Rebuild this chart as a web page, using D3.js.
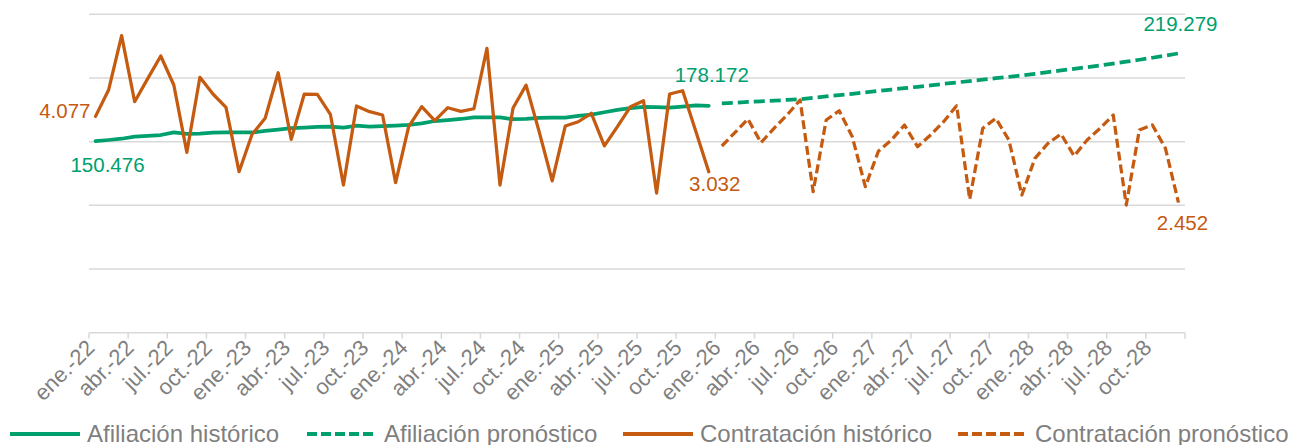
<!DOCTYPE html>
<html><head><meta charset="utf-8">
<script src="https://cdn.jsdelivr.net/npm/d3@7"></script>
<style>
html,body{margin:0;padding:0;background:#fff;}
svg{display:block;font-family:"Liberation Sans",Arial,sans-serif;}
</style></head>
<body>
<svg id="chart" width="1290" height="445"></svg>
<script>
const monthNames = ["ene.","feb.","mar.","abr.","may.","jun.","jul.","ago.","sep.","oct.","nov.","dic."];
const years = ["22","23","24","25","26","27","28"];
const categories = years.flatMap(y => monthNames.map(m => m + "-" + y));

const afiliacionHistorico = [150476,151300,152300,153900,154500,155200,157300,156200,156400,157000,
  157200,157200,157200,158400,159500,160700,161100,161700,161800,161000,
  162500,161900,162100,162500,163100,164300,166200,167000,167800,169100,
  169100,169100,167600,167800,168700,168800,168800,170200,171300,173100,
  174900,176400,177400,177200,176800,177600,178400,178172];
const afiliacionPronostico = [180100,180600,181200,181700,182200,182800,183300,184400,185500,186600,187600,188700,
  189800,190900,192000,193100,194200,195400,196500,197600,198700,199800,200900,202000,
  203300,204600,205900,207200,208500,209900,211300,212800,214300,215900,217600,219279];
const contratacionHistorico = [4077,4573,5597,4353,4788,5214,4668,3399,4813,4498,4247,3034,
  3739,4040,4899,3644,4498,4492,4116,2783,4272,4165,4102,2827,
  3882,4259,3995,4240,4170,4220,5359,2783,4235,4665,3788,2862,
  3895,3975,4134,3520,3885,4259,4372,2630,4498,4560,3801,3032];
const contratacionPronostico = [3518,3769,4027,3580,3852,4102,4385,2657,4008,4183,3693,2751,
  3420,3631,3914,3505,3725,3976,4278,2514,3852,4040,3631,2595,
  3286,3569,3744,3330,3631,3852,4102,2406,3820,3914,3475,2452];
const primaryTicks = [0,50000,100000,150000,200000,250000];
const secondaryDomain = [0,6000];
const legendLabels = ["Afiliación histórico","Afiliación pronóstico","Contratación histórico","Contratación pronóstico"];

const GREEN = "#00a06e", ORANGE = "#c55a11", GRID = "#d9d9d9", TEXT = "#7f7f7f";
const svg = d3.select("#chart");
const plotLeft = 89, plotRight = 1185, plotTop = 14.3, plotBottom = 332.7;

const x = d3.scaleBand().domain(categories).range([plotLeft, plotRight]).padding(0);
const cx = c => x(c) + x.bandwidth() / 2;
const y1 = d3.scaleLinear().domain([0, 250000]).range([plotBottom, plotTop]);
const y2 = d3.scaleLinear().domain(secondaryDomain).range([plotBottom, plotTop]);

// gridlines
svg.append("g").selectAll("line").data(primaryTicks.slice(1)).join("line")
  .attr("x1", plotLeft).attr("x2", plotRight)
  .attr("y1", d => y1(d)).attr("y2", d => y1(d))
  .attr("stroke", GRID).attr("stroke-width", 1.5);

// x axis
const tickCats = categories.filter((c, i) => i % 3 === 0);
const axisG = svg.append("g").attr("transform", `translate(0,${plotBottom})`);
axisG.append("line").attr("x1", plotLeft).attr("x2", plotRight).attr("stroke", GRID).attr("stroke-width", 1.5);
const tickPos = tickCats.map(c => x(c)).concat([plotRight]);
axisG.selectAll("line.tick").data(tickPos).join("line").attr("class","tick")
  .attr("x1", d => d).attr("x2", d => d).attr("y1", 0).attr("y2", 6)
  .attr("stroke", GRID).attr("stroke-width", 1.5);
axisG.selectAll("text").data(tickCats).join("text")
  .attr("transform", c => `translate(${cx(c) - 5},${11}) rotate(-45)`)
  .attr("text-anchor", "end").attr("dy", "0.35em")
  .attr("font-size", 22).attr("fill", TEXT).text(c => c);

// lines
const histCats = categories.slice(0, afiliacionHistorico.length);
const pronCats = categories.slice(afiliacionHistorico.length);
function drawLine(cats, vals, yScale, color, width, dash) {
  const line = d3.line().x((d, i) => cx(cats[i])).y(d => yScale(d));
  svg.append("path").datum(vals).attr("d", line)
    .attr("fill", "none").attr("stroke", color).attr("stroke-width", width)
    .attr("stroke-linejoin", "round").attr("stroke-linecap", dash ? "butt" : "round")
    .attr("stroke-dasharray", dash || null);
}
drawLine(histCats, afiliacionHistorico, y1, GREEN, 3.75, null);
drawLine(pronCats, afiliacionPronostico, y1, GREEN, 3.75, "11,5");
drawLine(histCats, contratacionHistorico, y2, ORANGE, 3.25, null);
drawLine(pronCats, contratacionPronostico, y2, ORANGE, 3.25, "9,4");

// data labels
const labels = [
  {c: histCats[0], v: afiliacionHistorico[0], y: y1, color: GREEN, dx: 12, dy: 31, anchor: "middle"},
  {c: histCats[histCats.length-1], v: afiliacionHistorico[afiliacionHistorico.length-1], y: y1, color: GREEN, dx: 3, dy: -23.5, anchor: "middle"},
  {c: pronCats[pronCats.length-1], v: afiliacionPronostico[afiliacionPronostico.length-1], y: y1, color: GREEN, dx: 2, dy: -22, anchor: "middle"},
  {c: histCats[0], v: contratacionHistorico[0], y: y2, color: ORANGE, dx: -5, dy: 1.5, anchor: "end"},
  {c: histCats[histCats.length-1], v: contratacionHistorico[contratacionHistorico.length-1], y: y2, color: ORANGE, dx: 6, dy: 19, anchor: "middle"},
  {c: pronCats[pronCats.length-1], v: contratacionPronostico[contratacionPronostico.length-1], y: y2, color: ORANGE, dx: 4, dy: 27, anchor: "middle"}
];
const fmt = v => d3.format(",")(v).replace(/,/g, ".");
svg.append("g").selectAll("text").data(labels).join("text")
  .attr("x", d => cx(d.c) + d.dx).attr("y", d => d.y(d.v) + d.dy)
  .attr("text-anchor", d => d.anchor).attr("font-size", 20.5).attr("fill", d => d.color)
  .text(d => fmt(d.v));

// legend
const legendItems = [
  {label: legendLabels[0], color: GREEN, dash: null, x: 10},
  {label: legendLabels[1], color: GREEN, dash: "10,4", x: 307},
  {label: legendLabels[2], color: ORANGE, dash: null, x: 623},
  {label: legendLabels[3], color: ORANGE, dash: "10,4", x: 958}
];
const lg = svg.append("g").selectAll("g").data(legendItems).join("g")
  .attr("transform", d => `translate(${d.x},434)`);
lg.append("line").attr("x1", 0).attr("x2", 70).attr("stroke", d => d.color)
  .attr("stroke-width", 4).attr("stroke-dasharray", d => d.dash);
lg.append("text").attr("x", 77).attr("y", 7.5).attr("font-size", 24).attr("fill", TEXT)
  .text(d => d.label);
</script>
</body></html>
